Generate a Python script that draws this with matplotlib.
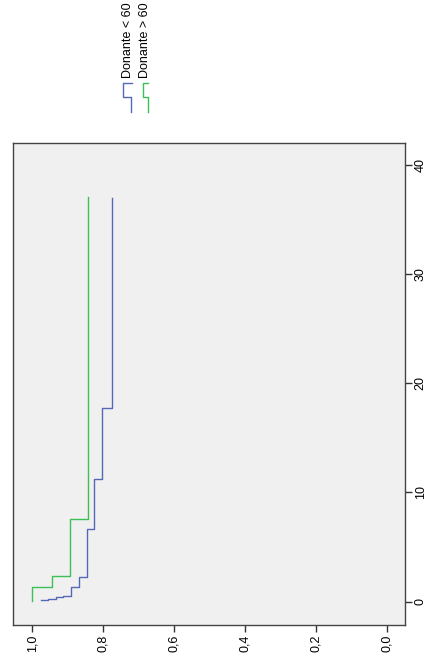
import matplotlib.pyplot as plt
from matplotlib.lines import Line2D

blueTime = [0.12, 0.12, 0.27, 0.39, 0.55, 1.31, 2.23, 6.62, 11.23, 17.7, 36.9]
blueSurv = [0.977, 0.956, 0.934, 0.914, 0.890, 0.868, 0.847, 0.827, 0.805, 0.775, 0.775]
greenTime = [0.05, 1.37, 2.35, 7.56, 37.0]
greenSurv = [1.0, 0.946, 0.893, 0.842, 0.842]

survTicks = [1.0, 0.8, 0.6, 0.4, 0.2, 0.0]
survLabels = ["1,0", "0,8", "0,6", "0,4", "0,2", "0,0"]
timeTicks = [0, 10, 20, 30, 40]
legendLabels = ["Donante < 60", "Donante > 60"]

blue = "#5468b8"
green = "#3cc055"
W, H = 427, 667

plt.rcParams["font.family"] = ["Liberation Sans", "DejaVu Sans"]
fig = plt.figure(figsize=(W / 100, H / 100), dpi=100)
ax = fig.add_axes([13 / W, 1 - 625 / H, (405 - 13) / W, (625 - 143) / H])
ax.set_facecolor("#f0f0f0")

# chart is drawn turned: survival runs along x (reversed), time along y
ax.plot(blueSurv, blueTime, color=blue, lw=1.0, drawstyle="steps-pre")
ax.plot(greenSurv, greenTime, color=green, lw=1.0, drawstyle="steps-pre")

ax.set_xlim(1.055, -0.052)
ax.set_ylim(-2.13, 41.97)

ax.set_xticks(survTicks)
ax.set_xticklabels(survLabels, rotation=90, va="top", ha="center", fontsize=9)
ax.yaxis.tick_right()
ax.set_yticks(timeTicks)
ax.set_yticklabels([str(t) for t in timeTicks], rotation=90, va="center", ha="left", fontsize=9)
ax.tick_params(axis="both", length=5, width=1, color="#333333", pad=2)
for s in ax.spines.values():
    s.set_color("#444444")
    s.set_linewidth(1)

# legend, also turned
def px(x, y):
    return x / W, 1 - y / H

glyphs = [
    ([131.7, 123.3, 123.3, 131.0, 131.0], [83.3, 83.3, 96.7, 96.7, 111.7], blue, 128.5),
    ([148.3, 143.3, 143.3, 148.3, 148.3], [83.3, 83.3, 96.7, 96.7, 111.7], green, 145.0),
]
for (gx, gy, col, tx), label in zip(glyphs, legendLabels):
    fx = [x / W for x in gx]
    fy = [1 - y / H for y in gy]
    fig.add_artist(Line2D(fx, fy, color=col, lw=1.0, transform=fig.transFigure))
    x0, y0 = px(tx, 78)
    fig.text(x0, y0, label, rotation=90, ha="center", va="bottom", fontsize=9)

fig.savefig("out.png", dpi=100)
